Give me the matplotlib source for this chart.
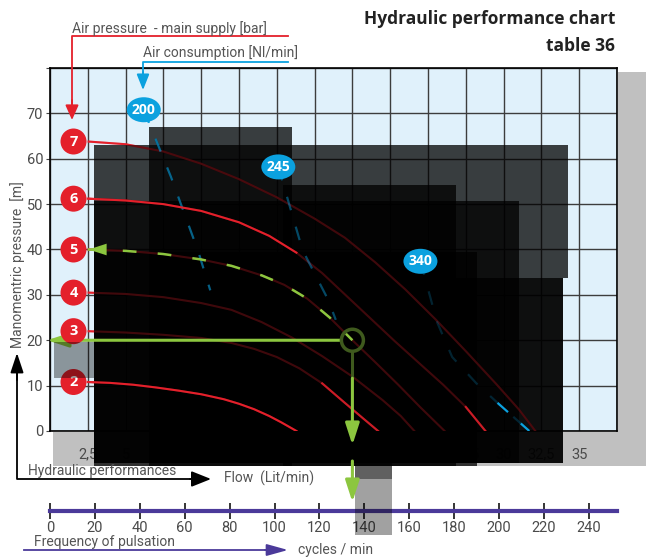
import numpy as np
import matplotlib
matplotlib.use("Agg")
import matplotlib.pyplot as plt
from matplotlib.patches import Rectangle, Ellipse
from matplotlib.lines import Line2D

# ---------------- data ----------------
pressure_labels = ["2", "3", "4", "5", "6", "7"]
flow_p2 = [2.5, 4.0, 5.5, 7.0, 8.5, 10.0, 11.5, 12.5, 13.5, 14.5, 15.3, 16.3]
head_p2 = [10.8, 10.6, 10.2, 9.6, 8.9, 8.1, 7.0, 6.0, 4.8, 3.3, 1.9, 0.0]
flow_p3 = [2.5, 5.0, 7.5, 10.0, 12.0, 13.5, 15.0, 16.5, 18.0, 19.5, 20.7, 21.7]
head_p3 = [22.0, 21.7, 21.2, 20.5, 19.4, 18.1, 16.3, 13.8, 10.5, 6.2, 2.8, 0.0]
flow_p4 = [2.5, 5.0, 7.5, 10.0, 12.0, 14.0, 16.0, 18.0, 20.0, 22.0, 23.2, 24.1]
head_p4 = [30.5, 30.2, 29.5, 28.2, 26.7, 24.0, 20.6, 16.5, 12.0, 6.8, 3.3, 0.0]
flow_p5 = [2.5, 5.0, 7.5, 10.0, 12.0, 14.0, 15.5, 17.0, 18.5, 20.0, 21.5, 23.0, 24.5, 26.1]
head_p5 = [40.0, 39.7, 39.0, 37.8, 36.4, 34.3, 32.2, 29.2, 25.0, 20.0, 15.2, 10.3, 5.2, 0.0]
flow_p6 = [2.5, 5.0, 7.5, 10.0, 12.5, 14.5, 16.3, 18.0, 19.6, 21.2, 22.8, 24.4, 26.0, 27.5, 28.8]
head_p6 = [51.2, 50.8, 50.0, 48.5, 46.0, 43.0, 39.3, 34.8, 29.8, 24.8, 19.8, 15.0, 10.2, 5.3, 0.0]
flow_p7 = [2.5, 5.0, 7.5, 10.0, 12.5, 15.0, 17.5, 19.5, 21.5, 23.5, 25.5, 27.5, 29.5, 31.0, 32.1]
head_p7 = [63.8, 63.2, 61.6, 58.9, 55.5, 51.5, 46.8, 42.6, 37.2, 31.2, 24.6, 17.6, 10.4, 4.8, 0.0]

air_labels = ["200", "245", "340"]
air_label_flow = [6.2, 15.1, 24.5]
air_label_head = [70.8, 58.2, 37.4]
air200_flow = [6.2, 8.0, 9.8, 10.6]
air200_head = [70.8, 56.0, 39.6, 31.0]
air245_flow = [15.1, 16.7, 18.4, 18.9]
air245_head = [58.2, 39.9, 28.9, 24.5]
air340_flow = [24.5, 25.6, 26.6, 28.2, 29.6, 31.7]
air340_head = [37.4, 24.0, 16.3, 10.5, 6.2, 0.0]

op_flow, op_head = 20.0, 20.0

flow_ticks = [0, 2.5, 5, 7.5, 10, 12.5, 15, 17.5, 20, 22.5, 25, 27.5, 30, 32.5, 35, 37.5]
flow_ticklabels = ["", "2,5", "5", "7,5", "10", "12,5", "15", "17,5", "20", "22,5",
                   "25", "27,5", "30", "32,5", "35", ""]
head_ticks = [0, 10, 20, 30, 40, 50, 60, 70, 80]
head_ticklabels = ["0", "10", "20", "30", "40", "50", "60", "70", ""]
freq_ticks = [0, 20, 40, 60, 80, 100, 120, 140, 160, 180, 200, 220, 240]

# ---------------- style ----------------
RED = "#e4202b"
BLUE = "#0ba1df"
GREEN = "#8cc63f"
OLIVE = "#3f5a1d"
PURPLE = "#4b3a9a"
BG = "#e0f1fb"
TXT = "#4a4a4a"
FONT = "Roboto"
BFONT = "Open Sans"

W, H = 646, 560
fig = plt.figure(figsize=(W / 100, H / 100), dpi=100)
fig.patch.set_facecolor("white")


def fpos(x, y):
    return (x / W, 1 - y / H)


ax_f = fig.add_axes([50 / W, 1 - 511 / H, 567 / W, 0.0005])
ax_f.set_zorder(0)
ax = fig.add_axes([50 / W, 1 - 431 / H, 567 / W, 363 / H])
ax.set_zorder(1)

# ---- main axes ----
ax.set_xlim(0, 37.5)
ax.set_ylim(0, 80)
ax.set_facecolor(BG)
ax.set_xticks(flow_ticks)
ax.set_xticklabels(flow_ticklabels)
ax.set_yticks(head_ticks)
ax.set_yticklabels(head_ticklabels)
ax.grid(True, color="#3d3d3d", lw=1.0)
ax.set_axisbelow(True)
for s in ax.spines.values():
    s.set_color("black")
    s.set_linewidth(1.2)
    s.set_zorder(1)
ax.tick_params(axis="x", length=0, pad=12, labelsize=10.5, labelcolor=TXT)
ax.tick_params(axis="y", length=3, color="#444", pad=2, labelsize=10.5, labelcolor=TXT)
for lab in ax.get_xticklabels() + ax.get_yticklabels():
    lab.set_family(FONT)


def px_rect(x0, y0, x1, y1, color="black", alpha=0.75, z=5):
    r = Rectangle((x0 / W, 1 - y1 / H), (x1 - x0) / W, (y1 - y0) / H,
                  transform=fig.transFigure, facecolor=color, edgecolor="none",
                  alpha=alpha, zorder=z, clip_on=False)
    ax.add_artist(r)


# grey frame behind bottom labels / right side
px_rect(53, 432, 646, 466, color="#c0c0c0", alpha=1, z=0.2)
px_rect(618, 72, 646, 466, color="#c0c0c0", alpha=1, z=0.2)

curves = [(flow_p2, head_p2), (flow_p3, head_p3), (flow_p4, head_p4),
          (flow_p5, head_p5), (flow_p6, head_p6), (flow_p7, head_p7)]
airs = [(air200_flow, air200_head), (air245_flow, air245_head), (air340_flow, air340_head)]
DASH_B = (0, (6.3, 7.7))

# bright layer (under the dark overlays)
for f, h in curves:
    ax.plot(f, h, color=RED, lw=1.5, zorder=2, solid_capstyle="butt", solid_joinstyle="round")
for f, h in airs:
    ax.plot(f, h, color=BLUE, lw=1.6, ls=DASH_B, zorder=2)

# dark overlays
for (x0, y0, x1, y1) in [(149, 127, 292, 466), (94, 145, 568, 278), (283, 185, 456, 466),
                         (94, 201, 519, 463), (94, 252, 477, 466), (94, 278, 563, 463),
                         (400, 278, 563, 463)]:
    px_rect(x0, y0, x1, y1, alpha=0.75, z=5)
px_rect(355, 300, 392, 535, alpha=0.37, z=5)
px_rect(355, 300, 392, 479, alpha=0.4, z=5)

# dim copies above overlays
for f, h in curves:
    ax.plot(f, h, color=RED, lw=1.5, alpha=0.28, zorder=6, solid_joinstyle="round")
for (f, h), a in zip(airs, [0.6, 0.45, 0.22]):
    ax.plot(f, h, color=BLUE, lw=1.6, ls=DASH_B, alpha=a, zorder=6)

# bright parts visible in the reference
ax.plot(flow_p2, head_p2, color=RED, lw=1.5, zorder=7, solid_joinstyle="round")
ax.plot(flow_p6[:7], head_p6[:7], color=RED, lw=1.5, zorder=7, solid_joinstyle="round")
ax.plot(flow_p3[-4:], head_p3[-4:], color=RED, lw=1.5, alpha=0.85, zorder=7)
ax.plot(flow_p6[-2:], head_p6[-2:], color=RED, lw=1.5, alpha=0.85, zorder=7)
ax.plot(air340_flow[-2:], air340_head[-2:], color=BLUE, lw=1.6, ls=DASH_B, zorder=7)

# green dashed operating path on 5-bar curve
n5 = flow_p5.index(op_flow) + 1
ax.plot(flow_p5[:n5], head_p5[:n5], color=GREEN, lw=1.8, ls=(0, (5.5, 8.5)), zorder=8)

arrow_kw = dict(arrowstyle="-|>,head_length=1.3,head_width=0.42", color=GREEN, lw=2.2,
                shrinkA=0, shrinkB=0, mutation_scale=10)
# arrow head at start of 5-bar curve
ax.annotate("", xy=(flow_p5[0] + 0.05, head_p5[0]), xytext=(flow_p5[0] + 1.3, head_p5[0]),
            arrowprops=dict(arrow_kw, lw=0.01), zorder=8, annotation_clip=False)

px_per_x = 567 / 37.5
px_per_y = 363 / 80
r_px = 11
rx, ry = r_px / px_per_x, r_px / px_per_y
# horizontal arrow to head axis
ax.annotate("", xy=(-0.2, op_head), xytext=(op_flow - rx, op_head),
            arrowprops=arrow_kw, zorder=8, annotation_clip=False)
# vertical arrow down to flow axis
dark_end = op_head - 27 / px_per_y - ry
ax.plot([op_flow, op_flow], [op_head - ry, dark_end], color=OLIVE, lw=2.2, zorder=8,
        solid_capstyle="butt")
ax.annotate("", xy=(op_flow, -14 / px_per_y), xytext=(op_flow, dark_end),
            arrowprops=arrow_kw, zorder=8, annotation_clip=False)
ax.annotate("", xy=(op_flow, -71 / px_per_y), xytext=(op_flow, -30 / px_per_y),
            arrowprops=arrow_kw, zorder=8, annotation_clip=False)
ax.add_patch(Ellipse((op_flow, op_head), 2 * rx, 2 * ry, facecolor="none",
                     edgecolor=OLIVE, lw=2.5, zorder=9))

# red pressure markers
mark_x = 23.5 / px_per_x
for lab, (f, h) in zip(pressure_labels, curves):
    ax.add_patch(Ellipse((mark_x, h[0]), 26 / px_per_x, 26 / px_per_y, facecolor=RED,
                         edgecolor="none", zorder=9, clip_on=False))
    ax.text(mark_x, h[0], lab, color="white", fontsize=10.5, fontweight="bold",
            family=BFONT, ha="center", va="center", zorder=10)

# blue air consumption bubbles
for lab, f, h in zip(air_labels, air_label_flow, air_label_head):
    ax.add_patch(Ellipse((f, h), 34 / px_per_x, 25 / px_per_y, facecolor=BLUE,
                         edgecolor="none", zorder=9, clip_on=False))
    ax.text(f, h, lab, color="white", fontsize=10, fontweight="bold",
            family=BFONT, ha="center", va="center", zorder=10)

# translucent grey patch on left
px_rect(54, 342, 94, 378, alpha=0.38, z=11)

# ---- frequency axis ----
ax_f.set_xlim(0, 252.5)
ax_f.set_ylim(0, 1)
ax_f.patch.set_visible(False)
for k in ["top", "left", "right"]:
    ax_f.spines[k].set_visible(False)
ax_f.spines["bottom"].set_color(PURPLE)
ax_f.spines["bottom"].set_linewidth(3)
ax_f.set_yticks([])
ax_f.set_xticks(freq_ticks)
ax_f.set_xticklabels([str(v) for v in freq_ticks])
ax_f.tick_params(axis="x", direction="inout", length=11, width=1.1, color="black",
                 pad=2, labelsize=10.5, labelcolor=TXT)
for lab in ax_f.get_xticklabels():
    lab.set_family(FONT)


# ---- annotations in figure space ----
def fline(pts, color, lw):
    xs = [p[0] / W for p in pts]
    ys = [1 - p[1] / H for p in pts]
    fig.add_artist(Line2D(xs, ys, transform=fig.transFigure, color=color, lw=lw))


def farrow(p0, p1, color, lw, hl, hw):
    ax.annotate("", xy=fpos(*p1), xytext=fpos(*p0), xycoords="figure fraction",
                textcoords="figure fraction", annotation_clip=False, zorder=12,
                arrowprops=dict(arrowstyle=f"-|>,head_length={hl},head_width={hw}",
                                mutation_scale=10, color=color, lw=lw,
                                shrinkA=0, shrinkB=0))


fig.text(615 / W, 1 - 24 / H, "Hydraulic performance chart", ha="right", va="baseline",
         fontsize=12.5, fontweight="bold", family=BFONT, color="#222222")
fig.text(615 / W, 1 - 51 / H, "table 36", ha="right", va="baseline",
         fontsize=12.5, fontweight="bold", family=BFONT, color="#222222")

fig.text(72 / W, 1 - 33 / H, "Air pressure  - main supply [bar]", ha="left", va="baseline",
         fontsize=10, family=FONT, color="#555555")
fline([(288, 36), (72, 36), (72, 110)], RED, 1.3)
farrow((72, 100), (72, 120), RED, 1.3, 0.9, 0.4)

fig.text(143 / W, 1 - 57 / H, "Air consumption [Nl/min]", ha="left", va="baseline",
         fontsize=10, family=FONT, color="#555555")
fline([(288, 62), (143, 62), (143, 80)], BLUE, 1.3)
farrow((143, 72), (143, 90), BLUE, 1.3, 0.95, 0.38)

fig.text(18 / W, 1 - 265 / H, "Manomentric pressure  [m]", ha="center", va="center",
         rotation=90, fontsize=10, family=FONT, color="#555555")
fline([(17, 370), (17, 479), (195, 479)], "black", 1.3)
farrow((17, 380), (17, 353), "black", 1.3, 1.2, 0.4)
farrow((190, 479), (211, 479), "black", 1.3, 1.2, 0.48)
fig.text(28 / W, 1 - 471 / H, "Hydraulic performances", ha="left", va="center",
         fontsize=10, family=FONT, color="#555555")
fig.text(224 / W, 1 - 478 / H, "Flow  (Lit/min)", ha="left", va="center",
         fontsize=10, family=FONT, color="#555555")

fig.text(34 / W, 1 - 542 / H, "Frequency of pulsation", ha="left", va="center",
         fontsize=10, family=FONT, color="#555555")
fline([(24, 550), (275, 550)], PURPLE, 1.3)
farrow((265, 550), (288, 550), PURPLE, 1.3, 1.3, 0.36)
fig.text(298 / W, 1 - 550 / H, "cycles / min", ha="left", va="center",
         fontsize=10, family=FONT, color="#555555")

fig.savefig("out.png", dpi=100, facecolor="white")
